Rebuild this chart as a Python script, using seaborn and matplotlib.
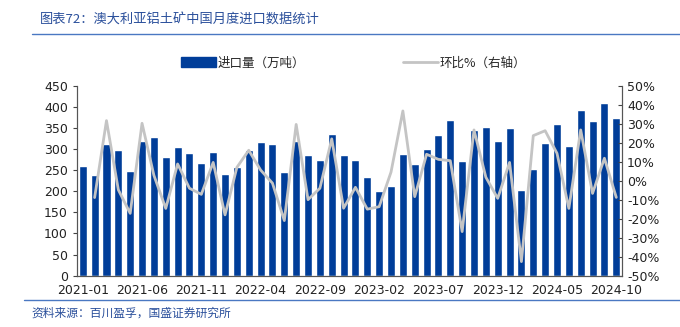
import matplotlib
matplotlib.use("Agg")
import matplotlib.pyplot as plt
import seaborn as sns
import pandas as pd
import numpy as np
from matplotlib.patches import Patch
from matplotlib.lines import Line2D

months = pd.period_range("2021-01", "2024-10", freq="M").strftime("%Y-%m").tolist()
imports = [260, 239, 313, 298, 249, 320, 329, 281, 305, 290, 268, 294,
           241, 257, 298, 316, 312, 246, 319, 285, 274, 335,
           286, 275, 233, 201, 212, 288, 264, 301, 334, 369, 272, 345,
           353, 319, 350, 203, 252, 315, 360, 308, 392, 366, 408, 373]
mom = [np.nan, -8.9, 31.6, -4.8, -17.2, 30.2, 2.8, -14.6, 8.8, -4.0, -7.2, 9.6,
       -18.0, 7.0, 16.0, 5.6, -1.3, -21.0, 29.6, -10.0, -4.0, 22.0,
       -14.5, -3.5, -15.0, -13.7, 4.5, 36.7, -8.4, 13.9, 11.2, 10.5, -26.8, 26.7,
       1.8, -9.3, 9.6, -42.6, 23.7, 26.3, 14.4, -14.6, 26.7, -6.7, 11.8, -8.8]

bar_label = "进口量（万吨）"
line_label = "环比%（右轴）"
title = "图表72：澳大利亚铝土矿中国月度进口数据统计"
source = "资料来源：百川盈孚，国盛证券研究所"

sns.set_style("white")
plt.rcParams['font.family'] = ['DejaVu Sans', 'Noto Sans CJK SC']
cjk = ['Noto Sans CJK SC', 'DejaVu Sans']

bar_color = "#003D99"
line_color = "#C4C4C4"
text_blue = "#2A4F9B"

df = pd.DataFrame({"month": months, "imports": imports, "mom": mom, "pos": np.arange(len(months))})

fig = plt.figure(figsize=(6.8, 3.27), dpi=100)
ax = fig.add_axes([0.113, 0.157, 0.802, 0.581])
sns.barplot(data=df, x="month", y="imports", color=bar_color, saturation=1, width=0.68, ax=ax)
ax.set_xlim(-0.5, len(months) - 0.5)
ax.set_ylim(0, 450)
ax.set_yticks(range(0, 451, 50))
ax.set_xticks(range(0, len(months), 5))
ax.set_xticklabels([months[i] for i in range(0, len(months), 5)])
ax.set_xticks(np.arange(0.5, len(months) - 0.5, 1), minor=True)
ax.tick_params(axis="x", which="major", length=0, labelsize=9, pad=6, colors="#222222")
ax.tick_params(axis="x", which="minor", length=3, direction="in", color="#444444")
ax.tick_params(axis="y", length=3, direction="out", labelsize=9, colors="#222222", color="#444444")
ax.set_xlabel("")
ax.set_ylabel("")
for s in ["left", "bottom", "right"]:
    ax.spines[s].set_color("#555555")
    ax.spines[s].set_linewidth(0.8)
ax.spines["top"].set_visible(False)

ax2 = ax.twinx()
sns.lineplot(data=df.dropna(), x="pos", y="mom", color=line_color, linewidth=2, ax=ax2)
ax2.set_ylim(-50, 50)
ax2.set_yticks(range(-50, 51, 10))
ax2.set_yticklabels([f"{v}%" for v in range(-50, 51, 10)])
ax2.tick_params(axis="y", length=3, direction="in", labelsize=9, colors="#222222", color="#444444")
ax2.set_xlim(-0.5, len(months) - 0.5)
ax2.set_ylabel("")
ax2.set_xlabel("")
for s in ["left", "bottom", "right"]:
    ax2.spines[s].set_color("#555555")
    ax2.spines[s].set_linewidth(0.8)
ax2.spines["top"].set_visible(False)

handles = [Patch(facecolor=bar_color, edgecolor=bar_color),
           Line2D([0], [0], color=line_color, linewidth=2)]
fig.legend(handles, [bar_label, line_label], loc="center", bbox_to_anchor=(0.52, 0.807),
           ncol=2, frameon=False, prop={"family": cjk, "size": 9},
           handlelength=2.8, handleheight=0.9, handletextpad=0.15, columnspacing=7.8)

fig.text(0.058, 0.94, title, family=cjk, fontsize=9.5, color=text_blue, va="center", style="italic")
fig.add_artist(Line2D([0.047, 1.0], [0.896, 0.896], transform=fig.transFigure, color="#4A78C2", linewidth=1))
fig.add_artist(Line2D([0.036, 1.0], [0.083, 0.083], transform=fig.transFigure, color="#4A78C2", linewidth=1))
fig.text(0.046, 0.043, source, family=cjk, fontsize=8.5, color=text_blue, va="center", style="italic")

fig.savefig("out.png", dpi=100)
